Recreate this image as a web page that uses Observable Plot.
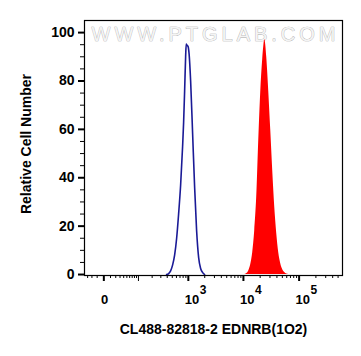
<!DOCTYPE html>
<html><head><meta charset="utf-8">
<script src="https://cdn.jsdelivr.net/npm/d3@7"></script>
<script src="https://cdn.jsdelivr.net/npm/@observablehq/plot@0.6"></script>
<style>body{margin:0;background:#fff;} svg{display:block;}</style>
</head><body><div id="chart"></div>
<script>
// Isotype control (blue outline)
const isotypeX = [389, 426, 465, 508, 554, 605, 659, 719, 783, 818, 854, 891, 914, 941, 990, 1035, 1103, 1201, 1307, 1422, 1548, 1683, 1832, 1992];
const isotypeCount = [0, 0.4, 1.5, 4, 8, 15, 25, 37, 53, 63, 76, 90, 95.3, 94.8, 94.2, 91, 80, 58, 36, 18, 7, 2.5, 0.8, 0];
// EDNRB stained (red filled)
const ednrbX = [10550, 11460, 12450, 13520, 14690, 15960, 17340, 18830, 20450, 22220, 23160, 24130, 25150, 26210, 28480, 30930, 33600, 36500, 39660, 43090, 46810, 50840, 55220, 60000, 65200];
const ednrbCount = [0, 0.4, 1.5, 4, 9, 18, 32, 55, 75, 89, 94, 97, 95, 90, 76, 60, 43, 28, 17, 9, 4.5, 2, 0.8, 0.2, 0];

const xMajorTicks = [0, 1000, 10000, 100000];
const xTickBase = ["0", "10", "10", "10"];
const xTickExp = ["", "3", "4", "5"];
const xMidTicks = [100];
const xMinorTicks = [-30, -20, -10, 10, 20, 30, 40, 50, 60, 70, 80, 90,
  200, 300, 400, 500, 600, 700, 800, 900,
  2000, 3000, 4000, 5000, 6000, 7000, 8000, 9000,
  20000, 30000, 40000, 50000, 60000, 70000, 80000, 90000,
  200000, 300000, 400000, 500000];
const yMajorTicks = [0, 20, 40, 60, 80, 100];
const yMinorTicks = [5, 10, 15, 25, 30, 35, 45, 50, 55, 65, 70, 75, 85, 90, 95];

const xTitle = "CL488-82818-2 EDNRB(1O2)";
const yTitle = "Relative Cell Number";
const watermark = "WWW.PTGLAB.COM";

const blue = isotypeX.map((x, i) => ({x, y: isotypeCount[i]}));
const red = ednrbX.map((x, i) => ({x, y: ednrbCount[i]}));
const xTicks = xMajorTicks.map((v, i) => ({v, base: xTickBase[i], exp: xTickExp[i]}));

const font = "'Liberation Sans', Arial, sans-serif";

const plot = Plot.plot({
  width: 361, height: 356,
  marginLeft: 84, marginRight: 19, marginTop: 20, marginBottom: 81,
  x: {type: "symlog", constant: 31.5, domain: [-38.5, 600000]},
  y: {domain: [-0.4, 105]},
  style: {fontFamily: font, background: "#fff", color: "#000"},
  marks: [
    Plot.text([watermark], {frameAnchor: "top", dy: 20.7, lineAnchor: "bottom", fontSize: 20, fill: "#f4f4f4", stroke: "#a8a8a8", strokeWidth: 0.7}),
    Plot.areaY(red, {x: "x", y: "y", fill: "#ff0000", curve: "monotone-x"}),
    Plot.lineY(blue, {x: "x", y: "y", stroke: "#1a1a96", strokeWidth: 1.6, curve: "monotone-x"}),
    Plot.frame({stroke: "#000", strokeWidth: 1.2}),
    Plot.axisY(yMajorTicks, {anchor: "left", tickSize: 6, tickPadding: 4, fontSize: 14, fontWeight: "bold", strokeWidth: 2, label: null}),
    Plot.axisY(yMinorTicks, {anchor: "left", tickSize: 4, tickFormat: () => "", label: null}),
    Plot.axisX(xMajorTicks, {anchor: "bottom", tickSize: 6, strokeWidth: 2, tickFormat: () => "", label: null}),
    Plot.axisX(xMidTicks, {anchor: "bottom", tickSize: 6, tickFormat: () => "", label: null}),
    Plot.axisX(xMinorTicks, {anchor: "bottom", tickSize: 3, tickFormat: () => "", label: null}),
    Plot.text(xTicks.filter(d => d.exp === ""), {x: "v", text: "base", frameAnchor: "bottom", lineAnchor: "bottom", dy: 28.3, dx: 0.7, fontSize: 13, fontWeight: "bold", fill: "#000"}),
    Plot.text(xTicks.filter(d => d.exp !== ""), {x: "v", text: "base", frameAnchor: "bottom", lineAnchor: "bottom", textAnchor: "start", dy: 28.3, dx: -3.5, fontSize: 13, fontWeight: "bold", fill: "#000"}),
    Plot.text(xTicks.filter(d => d.exp !== ""), {x: "v", text: "exp", frameAnchor: "bottom", lineAnchor: "bottom", textAnchor: "start", dy: 18.3, dx: 11.5, fontSize: 12, fontWeight: "bold", fill: "#000"}),
    Plot.text([xTitle], {frameAnchor: "bottom", lineAnchor: "bottom", dy: 58, fontSize: 14, fontWeight: "bold", fill: "#000"}),
    Plot.text([yTitle], {frameAnchor: "left", textAnchor: "middle", lineAnchor: "middle", rotate: -90, dx: -58, dy: -4, fontSize: 14, fontWeight: "bold", fill: "#000"})
  ]
});

d3.select(plot).selectAll("text")
  .filter(function() { return this.textContent === watermark; })
  .attr("textLength", 244).attr("lengthAdjust", "spacing");

document.getElementById("chart").appendChild(plot);
</script>
</body></html>
